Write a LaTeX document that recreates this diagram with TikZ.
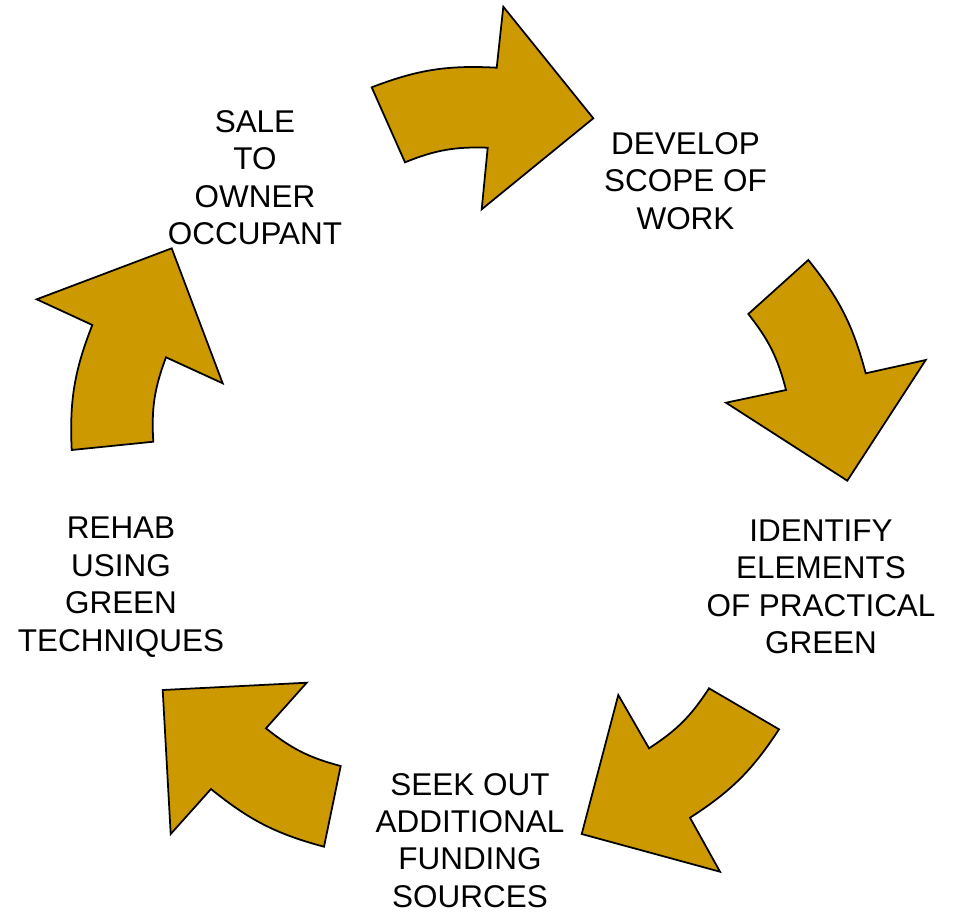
\documentclass[tikz,border=0pt]{standalone}
\usepackage{fontspec}
\setmainfont{Liberation Sans}
\definecolor{arrowgold}{RGB}{204,153,0}

\begin{document}
\begin{tikzpicture}[scale=0.2,
  step label/.style={align=center,font=\fontsize{17.9}{21.3}\selectfont},
  cycle arrow/.style={draw=black,fill=arrowgold,line width=1pt,line join=miter}]
\tikzstyle{every node}+=[inner sep=0pt]
\useasboundingbox (0,0) rectangle (95.4,-91.3);
\node [step label] (sale) at (25.5,-17.76) {SALE\\TO\\OWNER\\OCCUPANT};
\node [step label] (develop) at (68.55,-18.09) {DEVELOP\\SCOPE OF\\WORK};
\node [step label] (identify) at (82.1,-58.7) {IDENTIFY\\ELEMENTS\\OF PRACTICAL\\GREEN};
\node [step label] (seek) at (47.0,-84.04) {SEEK OUT\\ADDITIONAL\\FUNDING\\SOURCES};
\node [step label] (rehab) at (12.1,-58.7) {REHAB\\USING\\GREEN\\TECHNIQUES};
\filldraw [cycle arrow] (37.17,-8.73) to[bend left=12] (49.67,-6.77) -- (50.33,-0.67) -- (59.33,-11.83)
  -- (48.17,-20.93) -- (48.77,-14.77) to[bend right=12] (40.5,-16.23) -- cycle;
\filldraw [cycle arrow] (80.83,-26.0) to[bend left=12] (86.57,-37.33) -- (92.57,-36.0) -- (84.73,-48.07)
  -- (72.6,-40.27) -- (78.6,-39.0) to[bend right=12] (74.83,-31.4) -- cycle;
\filldraw [cycle arrow] (77.9,-72.93) to[bend left=12] (69.0,-81.77) -- (72.0,-87.17) -- (58.17,-83.4)
  -- (61.83,-69.5) -- (64.9,-74.83) to[bend right=12] (70.9,-68.83) -- cycle;
\filldraw [cycle arrow] (32.4,-84.67) to[bend left=12] (21.1,-78.9) -- (17.07,-83.4) -- (16.27,-69.0)
  -- (30.67,-68.27) -- (26.6,-72.83) to[bend right=12] (34.07,-76.6) -- cycle;
\filldraw [cycle arrow] (7.17,-45.0) to[bend left=12] (9.23,-32.5) -- (3.67,-29.93) -- (17.17,-24.83)
  -- (22.27,-38.33) -- (16.6,-35.73) to[bend right=12] (15.33,-44.17) -- cycle;
\end{tikzpicture}
\end{document}
